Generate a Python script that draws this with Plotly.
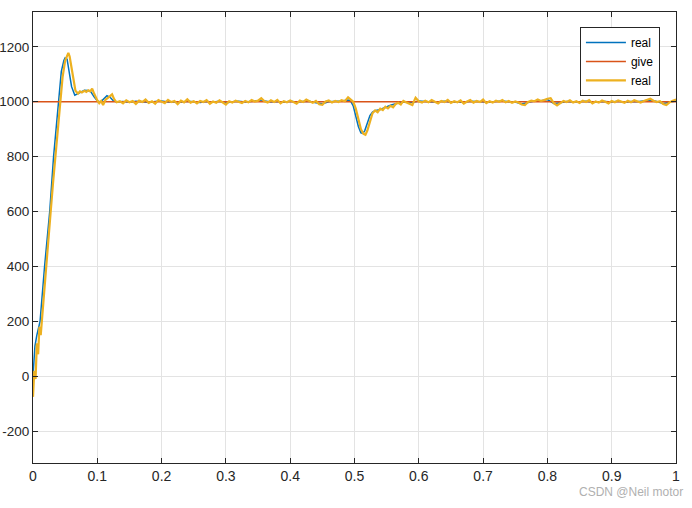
import numpy as np
import plotly.graph_objects as go

# ---------------- data ----------------
# blue "real" (smooth response)
blue_t_start = [0, 0.003, 0.006, 0.011, 0.018, 0.026, 0.032, 0.039, 0.044, 0.048, 0.050, 0.053,
                0.056, 0.060, 0.065, 0.070, 0.075, 0.080, 0.085, 0.090, 0.095, 0.100, 0.105,
                0.110, 0.115, 0.120, 0.125]
blue_v_start = [0, 110, 150, 200, 400, 600, 800, 1000, 1110, 1150, 1160, 1155,
                1110, 1055, 1024, 1030, 1038, 1042, 1041, 1036, 1018, 1003, 999,
                1010, 1022, 1016, 1003]
blue_v_mid = [999, 1001, 998, 1002, 1000, 997, 1001, 1003, 999, 1000, 998, 1002, 1000, 997,
              1001, 999, 1002, 996, 1000, 1002, 999, 1001, 1004, 1003, 999, 1001, 998, 1002,
              999, 1001, 1002, 996, 993, 1000, 1001, 1003, 1006]          # t 0.13 .. 0.49
blue_t_dip = [0.494, 0.498, 0.502, 0.506, 0.510, 0.513, 0.516, 0.520, 0.524, 0.528, 0.532,
              0.540, 0.548, 0.556, 0.564, 0.572, 0.580, 0.590, 0.600]
blue_v_dip = [1002, 985, 950, 910, 887, 885, 895, 925, 950, 962, 967,
              972, 980, 987, 993, 998, 999, 997, 1003]
blue_v_end = [1001, 999, 1000, 1002, 998, 1000, 997, 1002, 1001, 1000, 998, 1001, 1003, 1000,
              999, 992, 998, 1003, 1004, 1008, 994, 996, 1001, 999, 1000, 1002, 998, 1000,
              1001, 999, 1002, 998, 1001, 1000, 1003, 1006, 1001, 994, 998, 1003]  # t 0.61 .. 1.0

# orange "give" (reference)
give_t = [0, 1]
give_v = [1000, 1000]

# yellow "real" (noisy measurement)
yel_t_start = [0, 0.002, 0.004, 0.006, 0.008, 0.010, 0.012, 0.0145, 0.018, 0.021, 0.025, 0.0275,
               0.031, 0.035, 0.0385, 0.042, 0.046, 0.050, 0.053, 0.055, 0.057, 0.060, 0.063,
               0.066, 0.070, 0.073, 0.076, 0.080, 0.083, 0.086, 0.089, 0.092, 0.095, 0.098,
               0.100, 0.103, 0.106, 0.109, 0.113, 0.117, 0.120, 0.123, 0.126, 0.130]
yel_v_start = [-75, 20, -10, 120, 80, 180, 150, 220, 300, 400, 520, 600,
               700, 800, 900, 1000, 1090, 1150, 1170, 1178, 1165, 1120, 1070,
               1040, 1030, 1038, 1034, 1040, 1036, 1042, 1038, 1048, 1030, 1012,
               1005, 995, 1003, 988, 1008, 1015, 1020, 1027, 1010, 998]
yel_v_mid = [1002, 994, 1005, 998, 1003, 992, 1004, 999, 1008, 996, 1002, 993, 1006, 1001,
             995, 1007, 999, 1003, 991, 1004, 998, 1009, 997, 1002, 994, 1003, 999, 1006,
             993, 1001, 996, 1005, 999, 990, 1002, 997, 1004, 1000, 995, 1003, 998, 1006,
             1001, 1004, 1013, 1002, 997, 1005, 999, 1007, 994, 1002, 998, 1005, 1000, 993,
             1004, 999, 1008, 1002, 996, 1003, 991, 989, 1001, 1005, 997, 1003, 999, 1006,
             1002, 1016]                                                    # t 0.135 .. 0.49
yel_t_dip = [0.494, 0.498, 0.502, 0.506, 0.510, 0.514, 0.517, 0.520, 0.524, 0.528, 0.532,
             0.536, 0.540, 0.544, 0.548, 0.552, 0.556, 0.560, 0.564, 0.568, 0.572, 0.576,
             0.580, 0.585, 0.590, 0.595, 0.600]
yel_v_dip = [1008, 1000, 975, 935, 900, 883, 880, 895, 930, 958, 968,
             962, 975, 970, 982, 976, 985, 980, 992, 996, 990, 1003,
             998, 992, 988, 1015, 1002]
yel_v_end = [997, 1004, 998, 1006, 1000, 994, 1003, 999, 1007, 996, 1002, 998, 1005, 993,
             1001, 1006, 997, 1003, 999, 1008, 995, 1002, 997, 1004, 1000, 1006, 998, 1003,
             996, 1001, 997, 990, 988, 999, 1004, 1002, 1008, 1003, 1006, 1011, 1013, 995,
             987, 996, 1003, 999, 1005, 997, 1002, 996, 1004, 999, 1006, 994, 1001, 997,
             1005, 1000, 994, 1003, 998, 1005, 1001, 996, 1004, 998, 1006, 1002, 997, 1003,
             1008, 1011, 1004, 999, 1002, 992, 988, 998, 1004, 1008]          # t 0.605 .. 1.0

x_ticks = [0, 0.1, 0.2, 0.3, 0.4, 0.5, 0.6, 0.7, 0.8, 0.9, 1]
x_tick_labels = ["0", "0.1", "0.2", "0.3", "0.4", "0.5", "0.6", "0.7", "0.8", "0.9", "1"]
y_ticks = [-200, 0, 200, 400, 600, 800, 1000, 1200]
y_tick_labels = ["-200", "0", "200", "400", "600", "800", "1000", "1200"]

# ---------------- assemble ----------------
blue_t = (list(blue_t_start) + list(np.linspace(0.13, 0.49, len(blue_v_mid))) + blue_t_dip
          + list(np.linspace(0.61, 1.0, len(blue_v_end))))
blue_v = blue_v_start + blue_v_mid + blue_v_dip + blue_v_end
yel_t = (list(yel_t_start) + list(np.linspace(0.135, 0.49, len(yel_v_mid))) + yel_t_dip
         + list(np.linspace(0.605, 1.0, len(yel_v_end))))
yel_v = yel_v_start + yel_v_mid + yel_v_dip + yel_v_end

BLUE = "#0072BD"
ORANGE = "#D95319"
YELLOW = "#EDB120"
AX = "#262626"
GRID = "#e3e3e3"
FONT = "Liberation Sans, Arial, sans-serif"

fig = go.Figure()
fig.add_trace(go.Scatter(x=blue_t, y=blue_v, mode="lines", name="real",
                         line=dict(color=BLUE, width=1.5)))
fig.add_trace(go.Scatter(x=give_t, y=give_v, mode="lines", name="give",
                         line=dict(color=ORANGE, width=1.5)))
fig.add_trace(go.Scatter(x=yel_t, y=yel_v, mode="lines", name="real",
                         line=dict(color=YELLOW, width=2.2)))

axis_common = dict(
    showline=True, linecolor=AX, linewidth=1, mirror="ticks",
    ticks="inside", ticklen=5, tickcolor=AX, tickwidth=1,
    showgrid=True, gridcolor=GRID, gridwidth=1, zeroline=False,
    automargin=False,
)

fig.update_xaxes(range=[0, 1], tickvals=x_ticks, ticktext=x_tick_labels,
                 tickfont=dict(family=FONT, size=14, color=AX), **axis_common)
fig.update_yaxes(range=[-316, 1327], tickvals=y_ticks, ticktext=y_tick_labels,
                 tickfont=dict(family=FONT, size=13.5, color=AX), **axis_common)

fig.update_layout(
    width=692, height=508,
    margin=dict(l=33, r=16, t=12, b=45, autoexpand=False),
    paper_bgcolor="white", plot_bgcolor="white",
    showlegend=True,
    legend=dict(x=0.975, y=0.967, xanchor="right", yanchor="top",
                bgcolor="white", bordercolor=AX, borderwidth=1,
                font=dict(family=FONT, size=12, color="#000000"),
                tracegroupgap=0, itemwidth=40),
    annotations=[dict(text="CSDN @Neil motor", x=1.014, y=-0.064, xref="paper", yref="paper",
                      xanchor="right", yanchor="middle", showarrow=False,
                      font=dict(family=FONT, size=12, color="#b0b0b0"))],
)

fig.write_html("out.html", config={"displayModeBar": False},
               post_script="document.body.style.margin='0';document.body.style.overflow='hidden';")
